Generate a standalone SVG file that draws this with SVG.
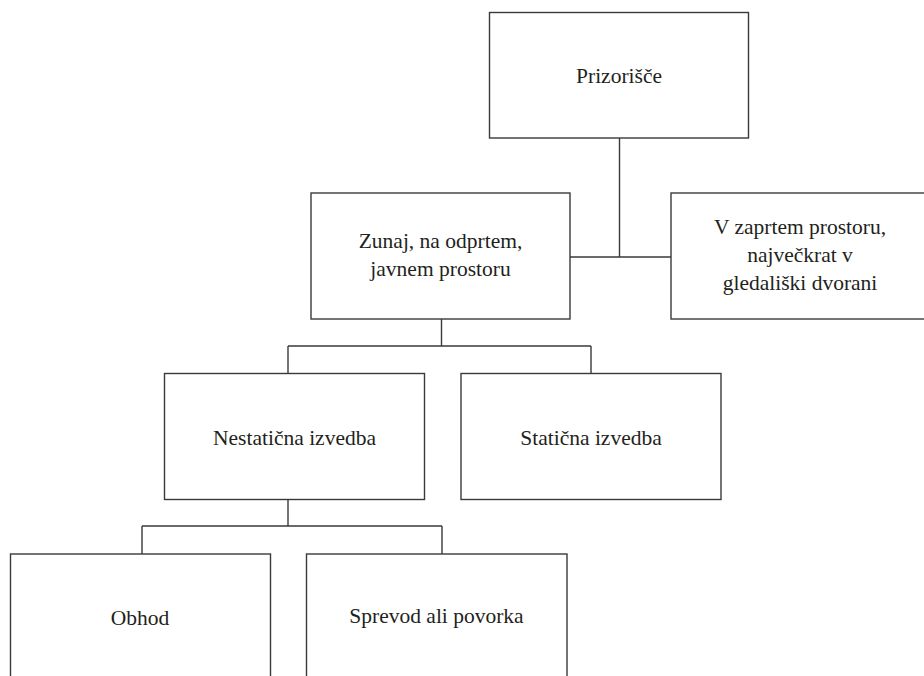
<svg xmlns="http://www.w3.org/2000/svg" width="924" height="676" viewBox="0 0 924 676">
<style>
.box{fill:#fff;stroke:#3a3a3a;stroke-width:1.4}
.lbl{font-family:'Liberation Serif','Times New Roman','DejaVu Serif',serif;font-size:21.5px;fill:#231f20;text-anchor:middle}
.con{fill:none;stroke:#3a3a3a;stroke-width:1.4}
</style>
<rect width="924" height="676" fill="#fff"/>
<g id="connectors">
<path class="con" d="M619.5 138V257M570 257H671"/>
<path class="con" d="M441.5 319V346M288 346H591M288 346V373M591 346V373"/>
<path class="con" d="M288 499V526M142 526H442M142 526V554M442 526V554"/>
</g>
<g id="n-prizorisce">
<rect class="box" x="489.5" y="12.5" width="259" height="125.5"/>
<text class="lbl" x="619" y="83">Prizorišče</text>
</g>
<g id="n-zunaj">
<rect class="box" x="311" y="193" width="259" height="126"/>
<text class="lbl" x="440.5" y="248">Zunaj, na odprtem,</text>
<text class="lbl" x="440.5" y="276">javnem prostoru</text>
</g>
<g id="n-zaprtem">
<rect class="box" x="671" y="193" width="270" height="126"/>
<text class="lbl" x="800" y="234">V zaprtem prostoru,</text>
<text class="lbl" x="800" y="262">največkrat v</text>
<text class="lbl" x="800" y="290">gledališki dvorani</text>
</g>
<g id="n-nestaticna">
<rect class="box" x="164.5" y="373.5" width="260" height="126"/>
<text class="lbl" x="294.5" y="445">Nestatična izvedba</text>
</g>
<g id="n-staticna">
<rect class="box" x="461" y="373.5" width="260" height="126"/>
<text class="lbl" x="591" y="445">Statična izvedba</text>
</g>
<g id="n-obhod">
<rect class="box" x="10.5" y="554" width="260" height="140"/>
<text class="lbl" x="140" y="625">Obhod</text>
</g>
<g id="n-sprevod">
<rect class="box" x="306.5" y="554" width="260.5" height="140"/>
<text class="lbl" x="436.5" y="623">Sprevod ali povorka</text>
</g>
</svg>
